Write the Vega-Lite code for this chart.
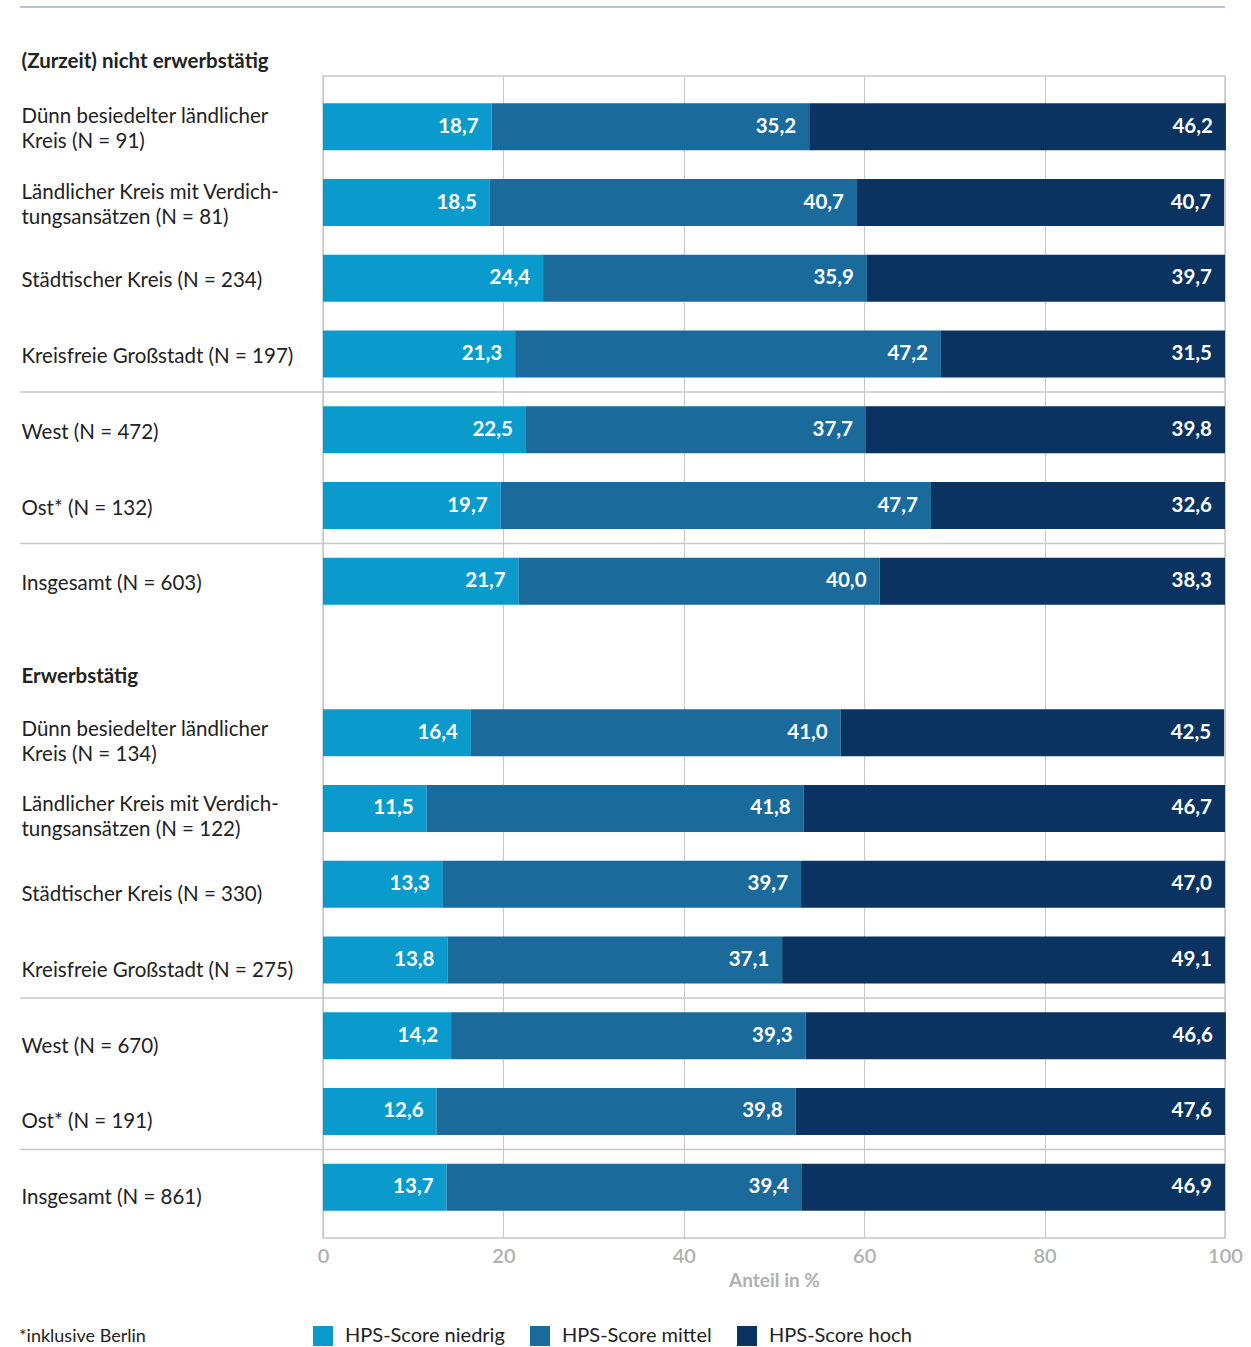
{
  "$schema": "https://vega.github.io/schema/vega-lite/v6.json",
  "autosize": {"type": "none"},
  "padding": {"left": 323, "top": 76, "right": 26, "bottom": 109},
  "width": 902,
  "height": 1162,
  "title": {"text": "*inklusive Berlin", "orient": "bottom", "anchor": "start", "frame": "bounds", "fontSize": 18, "fontWeight": "normal", "color": "#222222", "offset": -18},
  "datasets": {
    "bars": [
      {"g": "Dünn besiedelter ländlicher|Kreis (N = 91)", "s": "HPS-Score niedrig", "v": 18.7},
      {"g": "Dünn besiedelter ländlicher|Kreis (N = 91)", "s": "HPS-Score mittel", "v": 35.2},
      {"g": "Dünn besiedelter ländlicher|Kreis (N = 91)", "s": "HPS-Score hoch", "v": 46.2},
      {"g": "Ländlicher Kreis mit Verdich-|tungsansätzen (N = 81)", "s": "HPS-Score niedrig", "v": 18.5},
      {"g": "Ländlicher Kreis mit Verdich-|tungsansätzen (N = 81)", "s": "HPS-Score mittel", "v": 40.7},
      {"g": "Ländlicher Kreis mit Verdich-|tungsansätzen (N = 81)", "s": "HPS-Score hoch", "v": 40.7},
      {"g": "Städtischer Kreis (N = 234)", "s": "HPS-Score niedrig", "v": 24.4},
      {"g": "Städtischer Kreis (N = 234)", "s": "HPS-Score mittel", "v": 35.9},
      {"g": "Städtischer Kreis (N = 234)", "s": "HPS-Score hoch", "v": 39.7},
      {"g": "Kreisfreie Großstadt (N = 197)", "s": "HPS-Score niedrig", "v": 21.3},
      {"g": "Kreisfreie Großstadt (N = 197)", "s": "HPS-Score mittel", "v": 47.2},
      {"g": "Kreisfreie Großstadt (N = 197)", "s": "HPS-Score hoch", "v": 31.5},
      {"g": "West (N = 472)", "s": "HPS-Score niedrig", "v": 22.5},
      {"g": "West (N = 472)", "s": "HPS-Score mittel", "v": 37.7},
      {"g": "West (N = 472)", "s": "HPS-Score hoch", "v": 39.8},
      {"g": "Ost* (N = 132)", "s": "HPS-Score niedrig", "v": 19.7},
      {"g": "Ost* (N = 132)", "s": "HPS-Score mittel", "v": 47.7},
      {"g": "Ost* (N = 132)", "s": "HPS-Score hoch", "v": 32.6},
      {"g": "Insgesamt (N = 603)", "s": "HPS-Score niedrig", "v": 21.7},
      {"g": "Insgesamt (N = 603)", "s": "HPS-Score mittel", "v": 40.0},
      {"g": "Insgesamt (N = 603)", "s": "HPS-Score hoch", "v": 38.3},
      {"g": "Dünn besiedelter ländlicher|Kreis (N = 134)", "s": "HPS-Score niedrig", "v": 16.4},
      {"g": "Dünn besiedelter ländlicher|Kreis (N = 134)", "s": "HPS-Score mittel", "v": 41.0},
      {"g": "Dünn besiedelter ländlicher|Kreis (N = 134)", "s": "HPS-Score hoch", "v": 42.5},
      {"g": "Ländlicher Kreis mit Verdich-|tungsansätzen (N = 122)", "s": "HPS-Score niedrig", "v": 11.5},
      {"g": "Ländlicher Kreis mit Verdich-|tungsansätzen (N = 122)", "s": "HPS-Score mittel", "v": 41.8},
      {"g": "Ländlicher Kreis mit Verdich-|tungsansätzen (N = 122)", "s": "HPS-Score hoch", "v": 46.7},
      {"g": "Städtischer Kreis (N = 330)", "s": "HPS-Score niedrig", "v": 13.3},
      {"g": "Städtischer Kreis (N = 330)", "s": "HPS-Score mittel", "v": 39.7},
      {"g": "Städtischer Kreis (N = 330)", "s": "HPS-Score hoch", "v": 47.0},
      {"g": "Kreisfreie Großstadt (N = 275)", "s": "HPS-Score niedrig", "v": 13.8},
      {"g": "Kreisfreie Großstadt (N = 275)", "s": "HPS-Score mittel", "v": 37.1},
      {"g": "Kreisfreie Großstadt (N = 275)", "s": "HPS-Score hoch", "v": 49.1},
      {"g": "West (N = 670)", "s": "HPS-Score niedrig", "v": 14.2},
      {"g": "West (N = 670)", "s": "HPS-Score mittel", "v": 39.3},
      {"g": "West (N = 670)", "s": "HPS-Score hoch", "v": 46.6},
      {"g": "Ost* (N = 191)", "s": "HPS-Score niedrig", "v": 12.6},
      {"g": "Ost* (N = 191)", "s": "HPS-Score mittel", "v": 39.8},
      {"g": "Ost* (N = 191)", "s": "HPS-Score hoch", "v": 47.6},
      {"g": "Insgesamt (N = 861)", "s": "HPS-Score niedrig", "v": 13.7},
      {"g": "Insgesamt (N = 861)", "s": "HPS-Score mittel", "v": 39.4},
      {"g": "Insgesamt (N = 861)", "s": "HPS-Score hoch", "v": 46.9}
    ],
    "seps": [
      {"g": "West (N = 472)"},
      {"g": "Insgesamt (N = 603)"},
      {"g": "West (N = 670)"},
      {"g": "Insgesamt (N = 861)"}
    ],
    "topline": [
      {"g": "Dünn besiedelter ländlicher|Kreis (N = 91)"}
    ]
  },
  "layer": [
    {
      "data": {"name": "bars"},
      "mark": {"type": "bar"},
      "encoding": {
        "y": {
          "field": "g", "type": "nominal",
          "scale": {
            "domain": [
              "Dünn besiedelter ländlicher|Kreis (N = 91)",
              "Ländlicher Kreis mit Verdich-|tungsansätzen (N = 81)",
              "Städtischer Kreis (N = 234)",
              "Kreisfreie Großstadt (N = 197)",
              "West (N = 472)",
              "Ost* (N = 132)",
              "Insgesamt (N = 603)",
              "Erwerbstätig",
              "Dünn besiedelter ländlicher|Kreis (N = 134)",
              "Ländlicher Kreis mit Verdich-|tungsansätzen (N = 122)",
              "Städtischer Kreis (N = 330)",
              "Kreisfreie Großstadt (N = 275)",
              "West (N = 670)",
              "Ost* (N = 191)",
              "Insgesamt (N = 861)"
            ],
            "paddingInner": 0.38,
            "paddingOuter": 0.36
          },
          "axis": {
            "title": "(Zurzeit) nicht erwerbstätig",
            "titleAngle": 0,
            "titleAlign": "left",
            "titleBaseline": "alphabetic",
            "titleX": -302,
            "titleY": -9,
            "titleFontSize": 20.5,
            "titleFontWeight": "bold",
            "titleColor": "#222222",
            "labelExpr": "split(datum.label, '|')",
            "labelAlign": "left",
            "labelPadding": 302,
            "tickSize": 0,
            "ticks": false,
            "domain": false,
            "grid": false,
            "labelLimit": 330,
            "labelFontSize": 20.5,
            "labelLineHeight": 25,
            "labelColor": "#222222",
            "labelFontWeight": {"condition": {"test": "datum.value == 'Erwerbstätig'", "value": "bold"}, "value": "normal"},
            "labelOffset": {"condition": [
              {"test": "datum.value == 'Erwerbstätig'", "value": 20},
              {"test": "indexof(datum.value, '|') >= 0 && datum.index < 0.5", "value": -10},
              {"test": "indexof(datum.value, '|') >= 0", "value": -3},
              {"test": "datum.index > 0.5", "value": 11}
            ], "value": 3}
          }
        },
        "x": {
          "field": "v", "type": "quantitative", "stack": "zero",
          "scale": {"domain": [0, 100], "nice": false},
          "axis": {
            "title": "Anteil in %",
            "values": [0, 20, 40, 60, 80, 100],
            "grid": true,
            "gridColor": "#c8c8c8",
            "ticks": false,
            "domain": false,
            "labelFlush": false,
            "labelPadding": 8,
            "labelFontSize": 20,
            "labelColor": "#b0b0b0",
            "labelFontWeight": 600,
            "titleFontSize": 19,
            "titleColor": "#b0b0b0",
            "titleFontWeight": "bold",
            "titlePadding": 5
          }
        },
        "color": {
          "field": "s", "type": "nominal",
          "sort": ["HPS-Score niedrig", "HPS-Score mittel", "HPS-Score hoch"],
          "scale": {"domain": ["HPS-Score niedrig", "HPS-Score mittel", "HPS-Score hoch"], "range": ["#0a9bcc", "#1a6a9c", "#0a3361"]},
          "legend": {"title": null}
        },
        "order": {"field": "s", "type": "nominal", "sort": "descending"}
      }
    },
    {
      "data": {"name": "bars"},
      "mark": {"type": "text", "align": "right", "baseline": "middle", "dx": -13, "color": "white", "fontWeight": "bold", "fontSize": 20.5},
      "encoding": {
        "y": {"field": "g", "type": "nominal"},
        "x": {"field": "v", "type": "quantitative", "stack": "zero"},
        "detail": {"field": "s", "type": "nominal"},
        "order": {"field": "s", "type": "nominal", "sort": "descending"},
        "text": {"field": "v", "type": "quantitative", "format": ".1f"}
      }
    },
    {
      "data": {"name": "seps"},
      "mark": {"type": "rule", "color": "#c8c8c8", "strokeWidth": 1.5},
      "encoding": {
        "y": {"field": "g", "type": "nominal", "bandPosition": -0.306},
        "x": {"datum": -33.6},
        "x2": {"datum": 100}
      }
    },
    {
      "data": {"name": "topline"},
      "mark": {"type": "rule", "color": "#b7c4d6", "strokeWidth": 2},
      "encoding": {
        "y": {"field": "g", "type": "nominal", "bandPosition": -2.05},
        "x": {"datum": -33.6},
        "x2": {"datum": 100}
      }
    }
  ],
  "config": {
    "font": "Lato",
    "locale": {"number": {"decimal": ",", "thousands": ".", "grouping": [3], "currency": ["", " €"]}},
    "view": {"stroke": "#c8c8c8", "strokeWidth": 1.5},
    "legend": {
      "orient": "none",
      "legendX": -10,
      "legendY": 1250,
      "direction": "horizontal",
      "symbolType": "square",
      "symbolSize": 400,
      "symbolStrokeWidth": 0,
      "labelFontSize": 20,
      "labelColor": "#222222",
      "labelOffset": 12,
      "columnPadding": 25
    }
  }
}
